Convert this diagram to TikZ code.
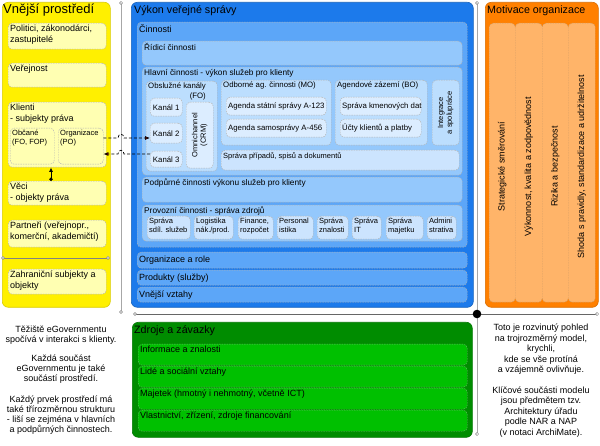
\documentclass[tikz,border=0pt]{standalone}
\usepackage{fontspec}
\setmainfont{Liberation Sans}
\usetikzlibrary{arrows.meta}
\definecolor{yel}{RGB}{255,240,0}
\definecolor{yelbox}{RGB}{255,255,178}
\definecolor{blueA}{RGB}{28,122,235}
\definecolor{blueB}{RGB}{92,166,248}
\definecolor{blueC}{RGB}{148,200,252}
\definecolor{blueD}{RGB}{188,222,254}
\definecolor{blueE}{RGB}{220,237,255}
\definecolor{blueF}{RGB}{204,228,254}
\definecolor{orA}{RGB}{255,128,0}
\definecolor{orB}{RGB}{255,180,105}
\definecolor{grA}{RGB}{0,140,0}
\definecolor{grB}{RGB}{0,192,0}
\definecolor{lin}{RGB}{130,130,130}
% #1 box style, #2 name, #3-#6 x1 y1 x2 y2, #7 anchor of text, #8 text style, #9 text
\newcommand\mybox[9]{%
  \node[#1,minimum width={(#5-#3)*1pt},minimum height={(#6-#4)*1pt}] (#2) at (#3,#4) {};
  \node[#8,anchor=#7] (#2t) at (#2.#7) {#9};}
\begin{document}
\begin{tikzpicture}[x=1pt,y=-1pt,
  panel/.style={anchor=north west,inner sep=0pt,rounded corners=6pt,line width=0.6pt},
  bx/.style={anchor=north west,inner sep=0pt,rounded corners=4pt,draw=black!30,
     dash pattern=on 1.5pt off 1pt,line width=0.45pt},
  ybx/.style={bx,fill=yelbox},
  bA/.style={bx,fill=blueB},
  bC/.style={bx,fill=blueC},
  bD/.style={bx,fill=blueD},
  bE/.style={bx,fill=blueE},
  bF/.style={bx,fill=blueF},
  oB/.style={bx,fill=orB,draw=orA!70!black!60},
  gB/.style={bx,fill=grB,draw=grA!60!white},
  ttl/.style={inner sep=0pt,anchor=base west,font=\fontsize{10.7}{12.5}\selectfont},
  t9/.style={inner sep=2pt,align=left,font=\fontsize{9}{10.3}\selectfont},
  t83/.style={inner sep=2pt,align=left,font=\fontsize{8.3}{9.5}\selectfont},
  t78/.style={inner sep=2pt,align=left,font=\fontsize{7.8}{9}\selectfont},
  t75/.style={inner sep=2pt,align=left,font=\fontsize{7.5}{8.6}\selectfont},
  tk/.style={inner sep=0pt,align=center,font=\fontsize{7.8}{9}\selectfont},
  rt/.style={inner sep=0pt,align=center,rotate=90,font=\fontsize{7.5}{8.6}\selectfont},
  ro/.style={inner sep=0pt,align=center,rotate=90,xshift=-4pt,font=\fontsize{9}{10.3}\selectfont},
  desc/.style={inner sep=0pt,anchor=north,align=center},
  sep/.style={draw=lin,line width=0.6pt},
  endc/.style={draw=lin,fill=white,line width=0.5pt},
  conn/.style={draw=black,line width=0.7pt,dash pattern=on 3pt off 2pt,
     -{Latex[length=5pt,width=4pt,fill=red!75!black]}}
]
\useasboundingbox (0,0) rectangle (600,446);
\fill[white] (0,0) rectangle (600,446);

% ---------- left: Vnejsi prostredi ----------
\node[panel,fill=yel,draw=yel!85!black,minimum width=108pt,minimum height=305pt] (vp) at (2,2) {};
\node[ttl,font=\fontsize{13}{15}\selectfont] (vpT) at (3,13.5) {Vnější prostředí};
\mybox{ybx}{pol}{8}{23}{106}{49}{north west}{t9}{Politici, zákonodárci,\\zastupitelé}
\mybox{ybx}{ver}{8}{63}{106}{87}{north west}{t9}{Veřejnost}
\mybox{ybx}{kli}{8}{102}{106}{167}{north west}{t9}{Klienti\\- subjekty práva}
\mybox{ybx}{obc}{10}{128}{54}{164}{north west}{t75}{Občané\\(FO, FOP)}
\mybox{ybx}{org}{58}{128}{103}{164}{north west}{t75}{Organizace\\(PO)}
\mybox{ybx}{veci}{8}{181}{106}{205}{north west}{t9}{Věci\\- objekty práva}
\mybox{ybx}{par}{8}{220}{106}{247}{north west}{t9}{Partneři (veřejnopr.,\\komerční, akademičtí)}
\mybox{ybx}{zah}{8}{269}{106}{294}{north west}{t9}{Zahraniční subjekty a\\objekty}
\draw[sep] (3,258) -- (108,258);
\draw[endc] (3,258) circle (1.5pt) (108,258) circle (1.5pt);
\draw[line width=0.8pt,{Circle[length=3.5pt]}-{Latex[length=4.5pt,width=4pt]}] (veci.north -| 51,0) -- (kli.south -| 51,0);

% ---------- middle: Vykon verejne spravy ----------
\node[panel,fill=blueA,draw=blueA!80!black,minimum width=342pt,minimum height=305pt] (vvs) at (131,2) {};
\node[ttl] (vvsT) at (134,13.5) {Výkon veřejné správy};
\mybox{bA}{cin}{137}{22}{467}{247}{north west}{t9}{Činnosti}
\mybox{bC}{rid}{142}{41}{462}{65}{north west}{t83}{Řídicí činnosti}
\mybox{bC}{hla}{142}{67}{462}{175}{north west}{t83}{Hlavní činnosti - výkon služeb pro klienty}
\mybox{bD}{obs}{146}{81}{217}{171}{north west}{t78}{Obslužné kanály}
\node[t78,anchor=east] (fo) at (208,96) {(FO)};
\mybox{bE}{k1}{150}{98}{182}{116}{center}{tk}{Kanál 1}
\mybox{bE}{k2}{150}{123}{182}{143}{center}{tk}{Kanál 2}
\mybox{bE}{k3}{150}{151}{182}{167}{center}{tk}{Kanál 3}
\mybox{bE}{omn}{186}{102}{213}{168}{center}{rt}{Omnichannel\\(CRM)}
\mybox{bD}{odb}{221}{80}{331}{145}{north west}{t78}{Odborné ag. činnosti (MO)}
\mybox{bE}{ag1}{226}{97}{326}{115}{west}{t78}{Agenda státní správy A-123}
\mybox{bE}{ag2}{226}{119}{326}{137}{west}{t78}{Agenda samosprávy A-456}
\mybox{bD}{bo}{335}{80}{427}{145}{north west}{t78}{Agendové zázemí (BO)}
\mybox{bE}{kd}{340}{97}{421}{115}{west}{t78}{Správa kmenových dat}
\mybox{bE}{uc}{340}{119}{421}{137}{west}{t78}{Účty klientů a platby}
\mybox{bD}{int}{432}{80}{459}{145}{center}{rt}{Integrace\\a spolupráce}
\mybox{bF}{spr}{221}{150}{459}{170}{north west}{t75}{Správa případů, spisů a dokumentů}
\mybox{bC}{pod}{142}{177}{462}{202}{north west}{t83}{Podpůrné činnosti výkonu služeb pro klienty}
\mybox{bC}{pro}{142}{205}{462}{241}{north west}{t83}{Provozní činnosti - správa zdrojů}
\mybox{bF}{s1}{147}{216}{190}{239}{north west}{t75}{Správa\\sdíl. služeb}
\mybox{bF}{s2}{194}{216}{233}{239}{north west}{t75}{Logistika\\nák./prod.}
\mybox{bF}{s3}{238}{216}{273}{239}{north west}{t75}{Finance,\\rozpočet}
\mybox{bF}{s4}{277}{216}{313}{239}{north west}{t75}{Personal\\istika}
\mybox{bF}{s5}{317}{216}{348}{239}{north west}{t75}{Správa\\znalosti}
\mybox{bF}{s6}{352}{216}{381}{239}{north west}{t75}{Správa\\IT}
\mybox{bF}{s7}{386}{216}{423}{239}{north west}{t75}{Správa\\majetku}
\mybox{bF}{s8}{427}{216}{456}{239}{north west}{t75}{Admini\\strativa}
\mybox{bA}{orr}{137}{252}{467}{268}{west}{t9}{Organizace a role}
\mybox{bA}{prd}{137}{270}{467}{285}{west}{t9}{Produkty (služby)}
\mybox{bA}{vv}{137}{287}{467}{302}{west}{t9}{Vnější vztahy}

% ---------- right: Motivace organizace ----------
\node[panel,fill=orA,draw=orA!85!black,minimum width=113pt,minimum height=305pt] (mo) at (485,2) {};
\node[ttl] (moT) at (487,13.5) {Motivace organizace};
\mybox{oB}{c1}{489}{23}{515}{302}{center}{ro}{Strategické směrování}
\mybox{oB}{c2}{515}{23}{542}{302}{center}{ro}{Výkonnost, kvalita a zodpovědnost}
\mybox{oB}{c3}{542}{23}{568}{302}{center}{ro}{Rizika a bezpečnost}
\mybox{oB}{c4}{568}{23}{595}{302}{center}{ro}{Shoda s pravidly, standardizace a udržitelnost}

% ---------- bottom: Zdroje a zavazky ----------
\node[panel,fill=grA,draw=grA!85!black,minimum width=340pt,minimum height=115pt] (zz) at (132,322) {};
\node[ttl] (zzT) at (134,334) {Zdroje a závazky};
\mybox{gB}{g1}{138}{344}{467}{365}{north west}{t9}{Informace a znalosti}
\mybox{gB}{g2}{138}{366}{467}{387}{north west}{t9}{Lidé a sociální vztahy}
\mybox{gB}{g3}{138}{388}{467}{409}{north west}{t9}{Majetek (hmotný i nehmotný, včetně ICT)}
\mybox{gB}{g4}{138}{410}{467}{431}{north west}{t9}{Vlastnictví, zřízení, zdroje financování}

% ---------- axes ----------
\draw[sep,draw=lin!70] (121,3) -- (121,312);
\draw[endc] (121,3) circle (1.6pt) (121,312) circle (1.6pt);
\draw[sep,draw=lin!70] (477,3) -- (477,434);
\draw[endc] (477,3) circle (1.6pt) (477,434) circle (1.6pt);
\draw[sep,draw=black!60] (135,314) -- (598,314);
\draw[endc] (135,314) circle (1.6pt) (597,314) circle (1.6pt);
\fill[black] (477,314) circle (4.3pt);

% ---------- connectors ----------
\draw[conn] (org.east |- 0,138) -- (118,138) .. controls (118,133) and (124,133) .. (124,138) -- (k2.west |- 0,138);
\draw[conn] (k3.west |- 0,154) -- (124,154) .. controls (124,149) and (118,149) .. (118,154) -- (org.east |- 0,154);

% ---------- descriptions ----------
\node[desc,font=\fontsize{9}{10}\selectfont] (dl) at (61,326) {Těžiště eGovernmentu\\spočívá v interakci s klienty.\\[9pt]Každá součást\\eGovernmentu je také\\součástí prostředí.\\[11pt]Každý prvek prostředí má\\také třírozměrnou strukturu\\- liší se zejména v hlavních\\a podpůrných činnostech.};
\node[desc,font=\fontsize{9}{10.5}\selectfont] (dr) at (541,324) {Toto je rozvinutý pohled\\na trojrozměrný model,\\krychli,\\kde se vše protíná\\a vzájemně ovlivňuje.\\[10pt]Klíčové součásti modelu\\jsou předmětem tzv.\\Architektury úřadu\\podle NAR a NAP\\(v notaci ArchiMate).};
\end{tikzpicture}
\end{document}
